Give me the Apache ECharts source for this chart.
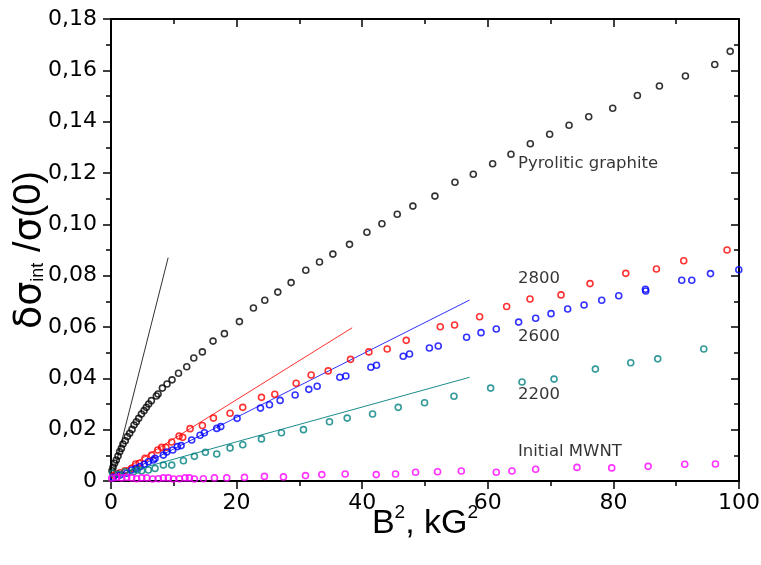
<!DOCTYPE html>
<html>
<head>
<meta charset="utf-8">
<script src="https://cdn.jsdelivr.net/npm/echarts@6/dist/echarts.min.js"></script>
<style>
html,body{margin:0;padding:0;background:#fff;}
#main{width:761px;height:565px;}
</style>
</head>
<body>
<div id="main"></div>
<script>
// ---- data (x = B^2 in kG^2, y = δσ_int/σ(0)) ----
const xTicks = [0, 20, 40, 60, 80, 100];
const yTicks = [0, 0.02, 0.04, 0.06, 0.08, 0.10, 0.12, 0.14, 0.16, 0.18];

const graphite = [[0.16,0.0040],[0.32,0.0053],[0.58,0.0069],[0.85,0.0082],[1.12,0.0097],[1.38,0.0114],[1.65,0.0127],[1.91,0.0144],[2.28,0.0157],[2.6,0.0173],[2.97,0.0186],[3.35,0.0201],[3.67,0.0218],[4.04,0.0231],[4.41,0.0244],[4.84,0.0261],[5.26,0.0274],[5.63,0.0287],[6.0,0.0300],[6.43,0.0313],[7.22,0.0331],[7.49,0.0339],[8.18,0.0362],[8.92,0.0378],[9.72,0.0394],[10.75,0.0420],[12.06,0.0445],[13.18,0.0479],[14.55,0.0503],[16.25,0.0545],[18.06,0.0574],[20.45,0.0621],[22.68,0.0674],[24.49,0.0704],[26.56,0.0736],[28.68,0.0773],[31.02,0.0821],[33.2,0.0853],[35.33,0.0884],[37.98,0.0922],[40.75,0.0969],[43.14,0.1002],[45.58,0.1039],[48.07,0.1071],[51.58,0.1110],[54.77,0.1164],[57.69,0.1195],[60.77,0.1236],[63.69,0.1273],[66.77,0.1314],[69.85,0.1351],[72.94,0.1386],[76.07,0.1419],[79.89,0.1452],[83.82,0.1502],[87.33,0.1539],[91.47,0.1578],[96.14,0.1623],[98.6,0.1674]];

const t2800 = [[0.5,0.0022],[0.9,0.0028],[1.43,0.0032],[2.23,0.0040],[3.29,0.0049],[3.93,0.0066],[4.51,0.0069],[5.42,0.0088],[6.48,0.0101],[7.44,0.0121],[8.08,0.0131],[8.76,0.0131],[9.67,0.0152],[10.84,0.0175],[11.42,0.0170],[12.59,0.0204],[14.55,0.0216],[16.31,0.0245],[18.96,0.0264],[20.98,0.0287],[23.96,0.0326],[26.08,0.0338],[29.48,0.0381],[31.87,0.0413],[34.58,0.0429],[38.14,0.0474],[41.06,0.0503],[43.98,0.0514],[47.01,0.0548],[52.43,0.0601],[54.71,0.0608],[58.7,0.0640],[63.0,0.0680],[66.72,0.0709],[71.66,0.0725],[76.28,0.0769],[81.97,0.0809],[86.85,0.0826],[91.2,0.0858],[98.1,0.0900]];

const t2600 = [[0.37,0.0014],[1.43,0.0023],[2.5,0.0030],[3.29,0.0043],[3.98,0.0049],[4.62,0.0056],[5.31,0.0065],[5.95,0.0075],[6.75,0.0082],[7.01,0.0088],[8.34,0.0101],[8.87,0.0113],[9.83,0.0121],[10.57,0.0134],[11.16,0.0138],[12.85,0.0160],[14.18,0.0178],[14.87,0.0188],[16.84,0.0205],[17.48,0.0212],[20.08,0.0244],[23.8,0.0284],[25.23,0.0297],[26.93,0.0314],[29.32,0.0335],[31.5,0.0357],[32.83,0.0369],[36.44,0.0404],[37.4,0.0409],[41.38,0.0443],[42.28,0.0451],[46.53,0.0486],[47.54,0.0495],[50.7,0.0518],[52.11,0.0526],[56.62,0.0560],[58.92,0.0578],[61.35,0.0592],[64.91,0.0619],[67.62,0.0634],[70.07,0.0652],[72.72,0.0670],[75.33,0.0686],[78.14,0.0704],[80.85,0.0722],[85.1,0.0747],[85.15,0.0740],[90.88,0.0782],[92.48,0.0782],[95.46,0.0808],[99.97,0.0823]];

const t2200 = [[0.27,0.0030],[1.17,0.0027],[2.23,0.0036],[3.56,0.0036],[4.2,0.0043],[4.89,0.0040],[5.95,0.0043],[7.01,0.0049],[8.34,0.0062],[9.67,0.0062],[11.53,0.0079],[13.28,0.0096],[15.03,0.0112],[16.84,0.0105],[18.96,0.0129],[20.98,0.0141],[23.96,0.0164],[27.14,0.0188],[30.65,0.0200],[34.79,0.0231],[37.61,0.0245],[41.65,0.0261],[45.74,0.0287],[49.93,0.0305],[54.61,0.0330],[60.45,0.0362],[65.45,0.0386],[70.55,0.0397],[77.13,0.0436],[82.76,0.0461],[87.06,0.0476],[94.39,0.0514]];

const initialMWNT = [[0.11,0.0011],[0.9,0.0014],[1.7,0.0012],[2.5,0.0014],[3.29,0.0012],[4.09,0.0009],[4.89,0.0012],[5.69,0.0012],[6.64,0.0008],[7.54,0.0009],[8.34,0.0012],[9.14,0.0012],[9.94,0.0008],[10.89,0.0009],[11.79,0.0012],[12.48,0.0012],[13.28,0.0008],[14.71,0.0009],[16.47,0.0012],[18.43,0.0012],[21.25,0.0014],[24.43,0.0018],[27.46,0.0016],[30.97,0.0021],[33.57,0.0025],[37.29,0.0027],[42.23,0.0025],[45.31,0.0027],[48.5,0.0034],[52.0,0.0036],[55.78,0.0039],[61.35,0.0034],[63.85,0.0039],[67.62,0.0046],[74.2,0.0053],[79.73,0.0051],[85.53,0.0057],[91.36,0.0065],[96.25,0.0066]];

// linear fits (end points)
const fitGraphite = [[0.3,0.002],[9.1,0.087]];
const fit2800 = [[0.5,0.002],[38.4,0.0597]];
const fit2600 = [[0.5,0.0008],[57.1,0.0705]];
const fit2200 = [[0.4,0.002],[57.1,0.0404]];

// annotation labels at data coordinates
const labelTexts = ['Pyrolitic graphite', '2800', '2600', '2200', 'Initial MWNT'];
const labelX = [64.8, 64.8, 64.8, 64.8, 64.8];
const labelY = [0.1235, 0.0787, 0.0561, 0.0335, 0.0113];

// ---- chart ----
const chart = echarts.init(document.getElementById('main'), null, {renderer: 'canvas'});
const FONT = 'Liberation Sans, Arial, sans-serif';
const GREEK = 'DejaVu Sans, Liberation Sans, sans-serif';
const TICKFONT = 'DejaVu Sans, Verdana, sans-serif';

function fmtY(v) {
  if (v === 0) return '0';
  return v.toFixed(2).replace('.', ',');
}

function scatterSeries(name, data, color) {
  return {
    name: name, type: 'scatter', data: data,
    symbol: 'circle', symbolSize: 6,
    itemStyle: {color: 'rgba(255,255,255,0)', borderColor: color, borderWidth: 1.6},
    silent: true, z: 3
  };
}
function lineSeries(name, data, color) {
  return {
    name: name, type: 'line', data: data, showSymbol: false, symbol: 'none',
    lineStyle: {color: color, width: 1}, silent: true, z: 2
  };
}

const axisLine = {show: true, onZero: false, lineStyle: {color: '#000', width: 2}};
const tickStyle = {color: '#000', width: 1.5};

const option = {
  animation: false,
  backgroundColor: '#fff',
  grid: {left: 111, right: 22, top: 19, bottom: 84, containLabel: false, outerBoundsMode: 'none'},
  xAxis: [
    {
      type: 'value', min: 0, max: 100, interval: 20, position: 'bottom',
      axisLine: axisLine,
      axisTick: {show: true, inside: false, length: 8, lineStyle: tickStyle},
      minorTick: {show: true, splitNumber: 2, length: 5, lineStyle: tickStyle},
      splitLine: {show: false},
      axisLabel: {show: true, color: '#000', fontFamily: TICKFONT, fontSize: 22, margin: 11,
        formatter: function (v) { return xTicks.indexOf(v) >= 0 ? String(v) : ''; }},
      name: '{b|B}{s|2}{b|, kG}{s|2}',
      nameLocation: 'middle', nameGap: 22, nameMoveOverlap: false,
      nameTextStyle: {
        color: '#000', fontFamily: FONT,
        rich: {
          b: {fontSize: 34, fontFamily: FONT, color: '#000', lineHeight: 38, verticalAlign: 'bottom'},
          s: {fontSize: 19, fontFamily: FONT, color: '#000', lineHeight: 38, verticalAlign: 'top'}
        }
      }
    },
    {
      type: 'value', min: 0, max: 100, interval: 20, position: 'top',
      axisLine: axisLine,
      axisTick: {show: true, inside: true, length: 8, lineStyle: tickStyle},
      minorTick: {show: true, splitNumber: 2, length: 5, lineStyle: tickStyle},
      splitLine: {show: false},
      axisLabel: {show: false}
    }
  ],
  yAxis: [
    {
      type: 'value', min: 0, max: 0.18, interval: 0.02, position: 'left',
      axisLine: axisLine,
      axisTick: {show: true, inside: false, length: 8, lineStyle: tickStyle},
      minorTick: {show: true, splitNumber: 2, length: 5, lineStyle: tickStyle},
      splitLine: {show: false},
      axisLabel: {show: true, color: '#000', fontFamily: TICKFONT, fontSize: 22, margin: 14,
        formatter: fmtY},
      name: '{g|δσ}{s|int}{b| /}{g|σ}{b|(0)}',
      nameLocation: 'middle', nameGap: 58, nameRotate: 90, nameMoveOverlap: false,
      nameTextStyle: {
        color: '#000', fontFamily: FONT,
        rich: {
          g: {fontSize: 38, fontFamily: GREEK, color: '#000', lineHeight: 42, verticalAlign: 'top'},
          b: {fontSize: 38, fontFamily: FONT, color: '#000', lineHeight: 42, verticalAlign: 'top'},
          s: {fontSize: 18, fontFamily: FONT, color: '#000', lineHeight: 20, verticalAlign: 'bottom', padding: [0, 0, 6, 0]}
        }
      }
    },
    {
      type: 'value', min: 0, max: 0.18, interval: 0.02, position: 'right',
      axisLine: axisLine,
      axisTick: {show: true, inside: true, length: 8, lineStyle: tickStyle},
      minorTick: {show: true, splitNumber: 2, length: 5, lineStyle: tickStyle},
      splitLine: {show: false},
      axisLabel: {show: false}
    }
  ],
  series: [
    lineSeries('fitGraphite', fitGraphite, '#333'),
    lineSeries('fit2800', fit2800, '#ff3030'),
    lineSeries('fit2600', fit2600, '#3030ff'),
    lineSeries('fit2200', fit2200, '#1a8c8c'),
    scatterSeries('Pyrolitic graphite', graphite, '#000000'),
    scatterSeries('2800', t2800, '#ff0000'),
    scatterSeries('2600', t2600, '#0000ff'),
    scatterSeries('2200', t2200, '#008080'),
    scatterSeries('Initial MWNT', initialMWNT, '#ff00ff'),
    {
      name: 'labels', type: 'scatter', symbolSize: 0, silent: true, z: 5,
      data: labelTexts.map(function (t, i) { return {value: [labelX[i], labelY[i]], name: t}; }),
      label: {
        show: true, position: 'right', distance: 0, formatter: '{b}',
        color: '#000', fontFamily: 'DejaVu Sans, Verdana, sans-serif', fontSize: 16.5
      }
    }
  ]
};
chart.setOption(option);
</script>
</body>
</html>
